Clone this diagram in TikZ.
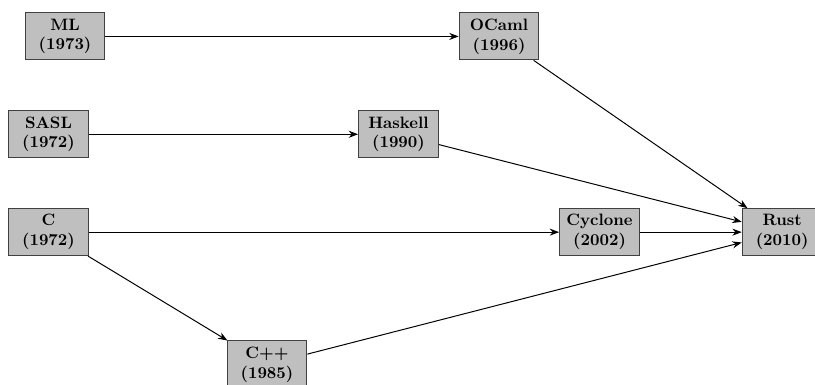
\documentclass[tikz,border=0pt]{standalone}
\usepackage{tikz}
\usetikzlibrary{positioning, arrows.meta}

\begin{document}
\begin{tikzpicture}[font=\bfseries,>={Stealth[length=2mm]},semithick,
  lang/.style={draw=black!75,fill=black!25,align=center,minimum width=1.7cm,minimum height=1cm,inner sep=2pt}]
  \useasboundingbox (0,0) rectangle (17.36,8.2);
  \node[lang] (ml) at (1.385,7.424){ML\\(1973)};
  \node[lang] (ocaml) at (10.63,7.424){OCaml\\(1996)};
  \node[lang] (sasl) at (1.033,5.34){SASL\\(1972)};
  \node[lang] (haskell) at (8.488,5.34){Haskell\\(1990)};
  \node[lang] (c) at (1.033,3.255){C\\(1972)};
  \node[lang] (cyclone) at (12.77,3.255){Cyclone\\(2002)};
  \node[lang] (rust) at (16.66,3.255){Rust\\(2010)};
  \node[lang] (cpp) at (5.687,0.437){C++\\(1985)};
  \draw[->](ml)--(ocaml);\draw[->](sasl)--(haskell);\draw[->](c)--(cyclone);\draw[->](c)--(cpp);
  \draw[->](ocaml)--(rust);\draw[->](haskell)--(rust);\draw[->](cyclone)--(rust);\draw[->](cpp)--(rust);
\end{tikzpicture}
\end{document}
